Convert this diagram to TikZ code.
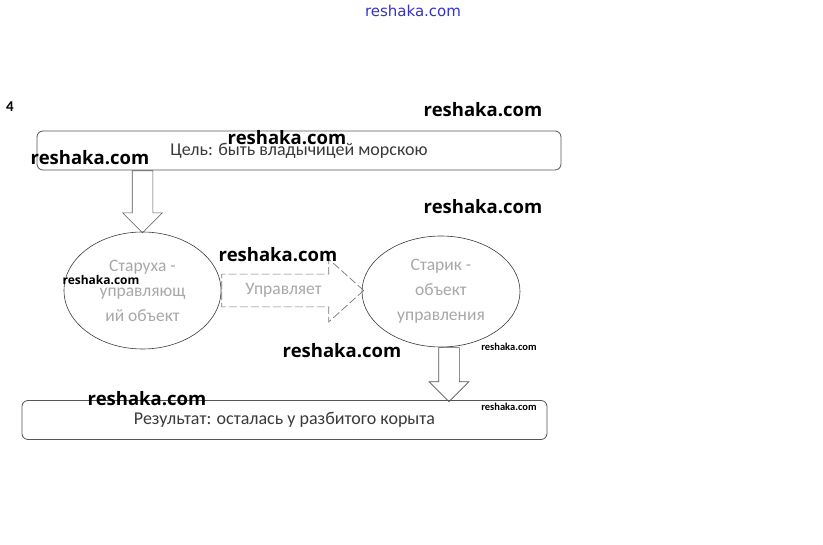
\documentclass[tikz,border=0pt]{standalone}
\usepackage{fontspec}
\usepackage{xcolor}
\usepackage{tikz}
\usetikzlibrary{positioning,shapes.geometric,shapes.arrows}
\newfontfamily\calib{Carlito}
\newfontfamily\wmfont{Open Sans}
\newfontfamily\topfont{DejaVu Sans}
\definecolor{char}{HTML}{3A3A3A}
\definecolor{edge}{HTML}{555555}
\definecolor{dashc}{HTML}{777777}
\definecolor{faint}{HTML}{A8A8A8}
\definecolor{wmblue}{HTML}{3333CC}
\tikzset{
  frame/.style={draw=edge, line width=0.8pt, rounded corners=6pt, minimum width=524pt,
                minimum height=39pt, inner sep=0pt, text=char,
                font=\calib\fontsize{18}{20}\selectfont},
  oval/.style={ellipse, draw=char, line width=0.6pt, inner sep=0pt, align=center,
               text=faint, font=\calib\fontsize{17.5}{25}\selectfont},
  blockdn/.style={single arrow, shape border rotate=270, draw=edge, line width=0.7pt,
                  inner sep=10pt, minimum width=39pt, single arrow head extend=9.5pt,
                  anchor=tail},
  blockrt/.style={single arrow, draw=dashc, dash pattern=on 8pt off 3pt, line width=0.7pt,
                  inner xsep=2pt, inner ysep=9pt, minimum width=62pt,
                  single arrow head extend=15pt, single arrow tip angle=84, anchor=tail,
                  text=faint, font=\calib\fontsize{17.5}{18}\selectfont},
  wm/.style={font=\wmfont\bfseries\fontsize{18.5}{20}\selectfont, text=black, inner sep=0pt},
  wmsmall/.style={font=\wmfont\bfseries\fontsize{12}{13}\selectfont, text=black, inner sep=0pt},
  wmtiny/.style={font=\calib\bfseries\fontsize{10.5}{11}\selectfont, text=black, inner sep=0pt},
}
\begin{document}
\begin{tikzpicture}[x=1pt, y=-1pt]
  \useasboundingbox[fill=white] (0,0) rectangle (823,545);
  % main blocks
  \node[frame, minimum width=524pt] (goal) at (299,150.5) {Цель: быть владычицей морскою};
  \node[oval, minimum width=157pt, minimum height=117pt] (stara) at (142.5,290.5)
        {Старуха -\\управляющ\\ий объект};
  \node[oval, minimum width=158pt, minimum height=111pt] (starik) at (441,291.5)
        {Старик -\\объект\\управления};
  \node[frame, minimum width=525pt] (res) at (284.5,420) {Результат: осталась у разбитого корыта};
  % block arrows
  \node[blockdn, minimum height=62pt] (a1) at (goal.south -| stara.north) {};
  \node[blockrt, minimum height=142pt] (a2) at (stara.east) {Управляет};
  \node[blockdn, minimum height=54pt] (a3) at ([xshift=8pt]starik.south) {};
  % labels
  \node[font=\calib\bfseries\fontsize{15}{16}\selectfont, inner sep=0pt] (num) at (10,107) {4};
  \node[font=\topfont\fontsize{15}{16}\selectfont, text=wmblue, inner sep=0pt] (wtop) at (413,11) {reshaka.com};
  \foreach \p [count=\i] in {(483,110),(287,138),(90,158),(483,207),(278,255),(342,351),(147,399)}
    \node[wm] (w\i) at \p {reshaka.com};
  \node[wmsmall] (ws) at (101,280) {reshaka.com};
  \node[wmtiny] (wt1) at (509,347) {reshaka.com};
  \node[wmtiny] (wt2) at (509,407) {reshaka.com};
\end{tikzpicture}
\end{document}
